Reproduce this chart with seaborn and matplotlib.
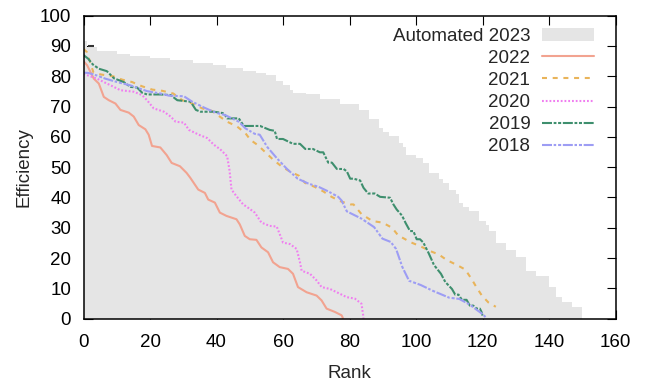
import matplotlib
matplotlib.use("Agg")
import matplotlib.pyplot as plt
from matplotlib.patches import Patch
from matplotlib.lines import Line2D
import seaborn as sns
import pandas as pd

# ---- data ----
auto_rank_starts = [0, 1, 4, 10, 14, 20, 26, 33, 39, 43, 48, 52, 55, 58, 60, 62, 63, 67, 71, 77,
                    83, 86, 89, 90, 92, 95, 96, 97, 100, 102, 104, 107, 108, 110, 112, 113, 114,
                    116, 119, 121, 122, 124, 127, 130, 133, 136, 140, 142, 144, 147]
auto_values = [91.5, 89.6, 88.5, 87.5, 86.8, 86.2, 85.3, 84.4, 83.8, 82.8, 81.6, 81.0, 80.3, 78.4,
               77.0, 75.4, 74.6, 74.0, 72.5, 71.0, 68.8, 65.9, 63.0, 61.6, 60.3, 58.0, 56.7, 54.0,
               53.0, 51.5, 48.0, 46.0, 44.8, 42.6, 41.0, 38.3, 36.7, 35.5, 32.2, 30.8, 29.0, 25.0,
               22.7, 20.3, 15.8, 14.0, 10.5, 7.2, 5.5, 3.9]
auto_end = 150

r2022 = [0, 1.1, 2.1, 3.1, 4.6, 6.1, 7.6, 9.6, 11.1, 13.6, 15.1, 16.6, 18.6, 19.6, 20.6, 23.1, 25.0,
         26.5, 29.0, 31.0, 32.1, 34.5, 36.5, 37.5, 39.5, 41.0, 43.0, 46.0, 47.0, 48.5, 50.0, 52.0,
         53.5, 55.5, 57.0, 59.0, 61.5, 63.0, 64.5, 67.1, 70.1, 71.6, 73.1, 75.6, 77.6, 78.0]
v2022 = [85.0, 83.6, 81.4, 79.2, 77.6, 73.2, 72.1, 71.0, 68.9, 68.0, 66.7, 63.9, 62.5, 60.7, 57.0,
         56.5, 54.0, 51.4, 50.3, 48.1, 46.5, 42.6, 41.5, 39.3, 38.3, 35.0, 33.9, 32.8, 31.1, 27.3,
         26.2, 26.0, 23.5, 21.9, 18.6, 17.0, 16.4, 14.8, 10.4, 8.7, 7.6, 6.0, 3.3, 2.2, 1.1, 0.2]

r2021 = [0, 1.0, 3.0, 5.2, 8.9, 11.6, 14.6, 17.6, 20.7, 23.7, 27.0, 29.7, 32.7, 35.7, 38.5, 40.7,
         43.2, 46.2, 48.7, 50.2, 52.5, 57.0, 59.5, 62.0, 64.9, 66.6, 69.5, 72.1, 74.6, 77.1, 80.3,
         81.2, 83.6, 86.9, 89.9, 92.8, 94.6, 98.4, 101.3, 104.0, 106.8, 109.3, 112.3, 114.8, 116.7,
         118.1, 119.8, 121.8, 124.0]
v2021 = [89.0, 88.0, 81.2, 80.6, 80.0, 78.9, 78.1, 76.7, 75.6, 75.2, 74.3, 72.1, 71.0, 69.4, 68.6,
         66.9, 65.0, 63.4, 61.2, 59.0, 57.2, 52.5, 50.3, 48.6, 47.1, 44.8, 43.5, 42.0, 40.2, 38.8,
         37.7, 37.7, 34.5, 32.2, 31.7, 30.0, 27.5, 25.2, 23.9, 22.4, 21.2, 19.3, 17.7, 16.2, 13.1,
         10.5, 7.6, 5.3, 3.9]

r2020 = [0, 4.1, 6.1, 9.1, 11.1, 15.1, 17.6, 19.1, 21.1, 24.2, 26.2, 27.7, 30.2, 31.7, 34.7, 37.2,
         39.2, 41.1, 43.2, 43.9, 44.5, 46.0, 48.0, 49.5, 51.5, 53.5, 56.0, 58.1, 59.0, 60.0, 62.1,
         64.1, 65.1, 65.6, 68.1, 70.1, 71.6, 74.1, 77.1, 79.1, 81.6, 83.6, 84.1, 84.2]
v2020 = [80.8, 79.2, 78.1, 76.5, 75.4, 74.9, 73.8, 72.1, 69.4, 68.3, 66.7, 65.0, 64.7, 62.3, 60.7,
         59.6, 57.4, 55.9, 53.6, 49.0, 42.6, 40.4, 37.7, 36.6, 35.0, 31.7, 30.6, 30.4, 27.9, 25.1,
         24.6, 23.0, 18.6, 15.8, 14.8, 12.6, 10.4, 9.8, 8.2, 7.1, 6.6, 4.9, 1.1, 0.0]

r2019 = [0, 1.4, 2.8, 4.6, 7.0, 9.2, 12.1, 14.1, 16.1, 17.6, 19.1, 23.2, 26.2, 28.2, 32.2, 33.8,
         35.2, 39.2, 42.2, 43.2, 46.7, 48.2, 53.1, 56.0, 57.5, 58.2, 60.0, 63.0, 65.1, 66.7, 69.0,
         71.1, 72.1, 73.6, 74.7, 76.2, 78.2, 79.2, 80.2, 81.2, 83.2, 84.2, 85.6, 87.6, 89.2, 92.2,
         93.2, 94.2, 95.8, 96.9, 98.2, 99.2, 100.2, 101.2, 102.2, 103.8, 105.4, 107.5, 108.8,
         110.8, 111.8, 112.8, 113.8, 115.2, 116.2, 117.2, 118.2, 119.2, 119.7, 120.0]
v2019 = [87.0, 85.8, 83.9, 82.5, 81.7, 79.3, 78.1, 76.5, 76.3, 74.6, 74.0, 74.0, 73.8, 72.1, 71.6,
         68.9, 68.3, 68.3, 67.8, 66.1, 66.1, 63.6, 63.6, 62.3, 62.0, 59.3, 59.3, 57.7, 57.7, 56.0,
         56.0, 54.9, 54.9, 51.5, 51.5, 49.4, 49.4, 48.6, 46.2, 46.2, 45.6, 43.2, 41.3, 41.3, 40.2,
         39.9, 37.7, 36.0, 34.0, 31.5, 28.9, 28.9, 26.2, 26.2, 25.1, 21.6, 17.7, 14.8, 12.1, 9.8,
         7.9, 7.9, 6.2, 6.2, 4.3, 4.3, 3.3, 3.3, 2.2, 1.0]

r2018 = [0, 1.5, 3.9, 6.6, 10.1, 14.1, 19.1, 23.2, 25.7, 30.2, 32.7, 36.2, 39.7, 42.6, 46.7, 48.7,
         51.5, 53.0, 55.3, 58.1, 61.1, 64.4, 67.6, 70.9, 73.6, 76.6, 77.6, 79.2, 83.6, 87.4, 89.9,
         92.4, 94.0, 95.9, 97.9, 101.4, 105.0, 110.0, 113.0, 116.2, 118.5, 120.0, 121.2]
v2018 = [81.2, 81.1, 80.3, 79.2, 78.1, 77.0, 75.1, 74.3, 73.6, 73.4, 71.6, 69.7, 68.0, 67.2, 65.0,
         62.8, 61.0, 60.7, 56.6, 53.0, 49.5, 46.2, 44.6, 43.4, 42.0, 40.2, 39.0, 35.4, 33.0, 30.2,
         26.4, 25.3, 23.0, 17.0, 12.5, 11.1, 9.2, 6.9, 6.5, 4.6, 2.7, 1.5, 0.2]

marker_rank = [2.2]
marker_value = [90.1]

series_names = ["2022", "2021", "2020", "2019", "2018"]
series_ranks = [r2022, r2021, r2020, r2019, r2018]
series_values = [v2022, v2021, v2020, v2019, v2018]

# ---- styles ----
colors = {"2022": "#f2a390", "2021": "#e9b45a", "2020": "#f07ef0",
          "2019": "#3e8f6e", "2018": "#9d9df4"}
dash_styles = {"2022": None, "2021": (0, (3.6, 4.1)), "2020": (0, (1.3, 1.4)),
               "2019": (0, (7.2, 1.2, 2.0, 1.2, 2.2, 1.2)),
               "2018": (0, (7.2, 1.2, 1.8, 1.4, 2.2, 1.2))}
gray = "#e5e5e5"

sns.set_style("ticks")
plt.rcParams["font.family"] = ["Liberation Sans", "DejaVu Sans"]
plt.rcParams["lines.scale_dashes"] = False
FS = 13.5

fig = plt.figure(figsize=(6.46, 3.84), dpi=100)
ax = fig.add_axes([0.1293, 0.1703, 0.8235, 0.7888])
ax.set_axisbelow(True)

xs = auto_rank_starts + [auto_end]
ys = auto_values + [auto_values[-1]]
ax.fill_between(xs, ys, 0, step="post", color=gray, linewidth=0, zorder=1)

frames = []
for name, rr, vv in zip(series_names, series_ranks, series_values):
    frames.append(pd.DataFrame({"rank": rr, "eff": vv, "year": name}))
df = pd.concat(frames, ignore_index=True)

handles = [Patch(facecolor=gray, edgecolor="none", label="Automated 2023")]
for name in series_names:
    sub = df[df["year"] == name]
    sns.lineplot(data=sub, x="rank", y="eff", color=colors[name], ax=ax,
                 sort=False, estimator=None, linewidth=1.5, zorder=2)
    ln = ax.lines[-1]
    if dash_styles[name] is not None:
        ln.set_linestyle(dash_styles[name])
    h = Line2D([], [], color=colors[name], linewidth=1.5,
               linestyle=dash_styles[name] if dash_styles[name] else "-", label=name)
    handles.append(h)

ax.plot(marker_rank, marker_value, marker="_", color="#333333", markersize=4,
        markeredgewidth=1.5, linestyle="none", zorder=3)

ax.set_xlim(0, 160)
ax.set_ylim(0, 100)
ax.set_xticks(range(0, 161, 20))
ax.set_yticks(range(0, 101, 10))
ax.tick_params(direction="in", length=6.5, width=0.8, top=True, right=True,
               labelsize=FS, colors="black")
ax.tick_params(axis="x", pad=11)
ax.tick_params(axis="y", pad=9)
for s in ax.spines.values():
    s.set_linewidth(1.1)
    s.set_color("black")
    s.set_zorder(4)

ax.set_xlabel("Rank", fontsize=FS, labelpad=10)
ax.set_ylabel("Efficiency", fontsize=FS, labelpad=5)

leg = ax.legend(handles=handles, loc="upper right", bbox_to_anchor=(0.9596, 0.960),
                frameon=False, markerfirst=False, fontsize=FS, handlelength=2.8,
                handleheight=0.66, handletextpad=0.6, labelspacing=0.27,
                borderpad=0, borderaxespad=0)
leg.set_zorder(5)

fig.savefig("out.png", dpi=100)
